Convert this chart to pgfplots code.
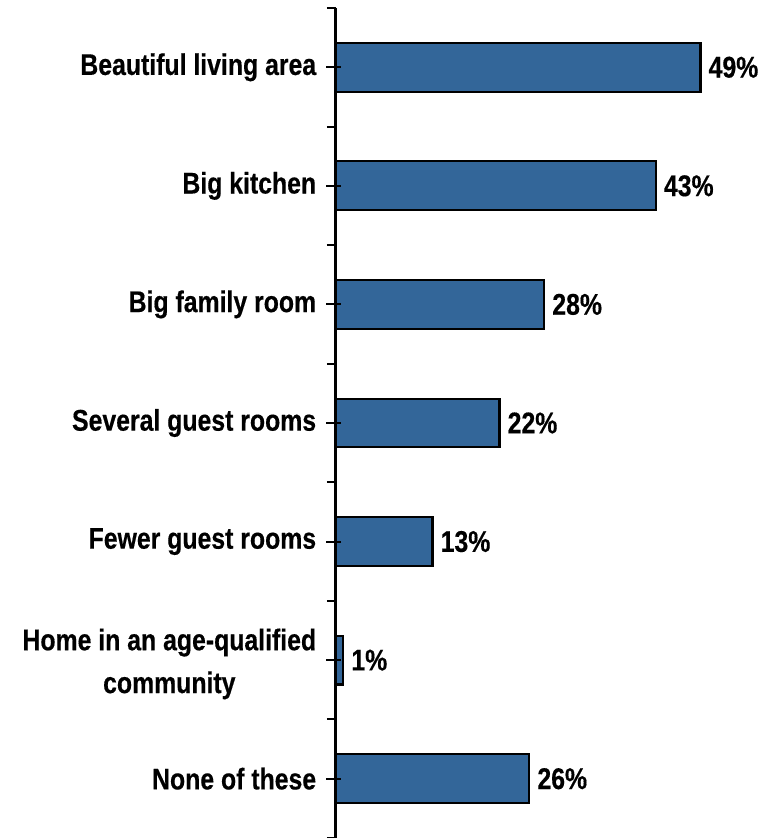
\documentclass[border=0pt]{standalone}
\usepackage{fontspec}
\setmainfont{Liberation Sans}[FakeStretch=0.83, BoldFeatures={FakeBold=0.4}]
\usepackage{pgfplots}
\pgfplotsset{compat=1.18}
\definecolor{barblue}{RGB}{51,102,153}
\begin{document}
\begin{tikzpicture}
\begin{axis}[
  name=ax,
  scale only axis,
  width=280.1pt, height=624.75pt,
  xbar, bar width=36.75pt,
  xmin=0, xmax=50,
  ymin=-0.5, ymax=6.5,
  y dir=reverse,
  clip=false,
  axis on top,
  axis x line=none,
  axis y line*=left,
  y axis line style={line width=2pt, black},
  ytick={0,...,6},
  yticklabels={{Beautiful living area},{Big kitchen},{Big family room},{Several guest rooms},{Fewer guest rooms},{\rule{0pt}{22pt}Home in an age-qualified\\community},{None of these}},
  minor ytick={-0.5,0.5,...,6.5},
  ytick align=outside,
  major tick length=11.25pt,
  minor tick length=6.75pt,
  every major tick/.append style={line width=1.5pt, black, xshift=4.1pt},
  every minor tick/.append style={line width=1.5pt, black},
  yticklabel style={font={\fontsize{22.5}{32.25}\selectfont\bfseries}, align=center, text=black},
  nodes near coords={\pgfmathprintnumber[assume math mode=true]{\pgfplotspointmeta}\%},
  every node near coord/.append style={font={\fontsize{22.5}{26}\selectfont\bfseries}, text=black, anchor=west, xshift=2pt},
]
\addplot[fill=barblue, draw=black, line width=1.6pt] coordinates {
(49,0) (43,1) (28,2) (22,3) (13,4) (1,5) (26,6)
};
\end{axis}
\pgfresetboundingbox
\path[use as bounding box] (ax.south west) ++(-252.75pt,2.25pt) rectangle ++(583.5pt,628.5pt);
\end{tikzpicture}
\end{document}
